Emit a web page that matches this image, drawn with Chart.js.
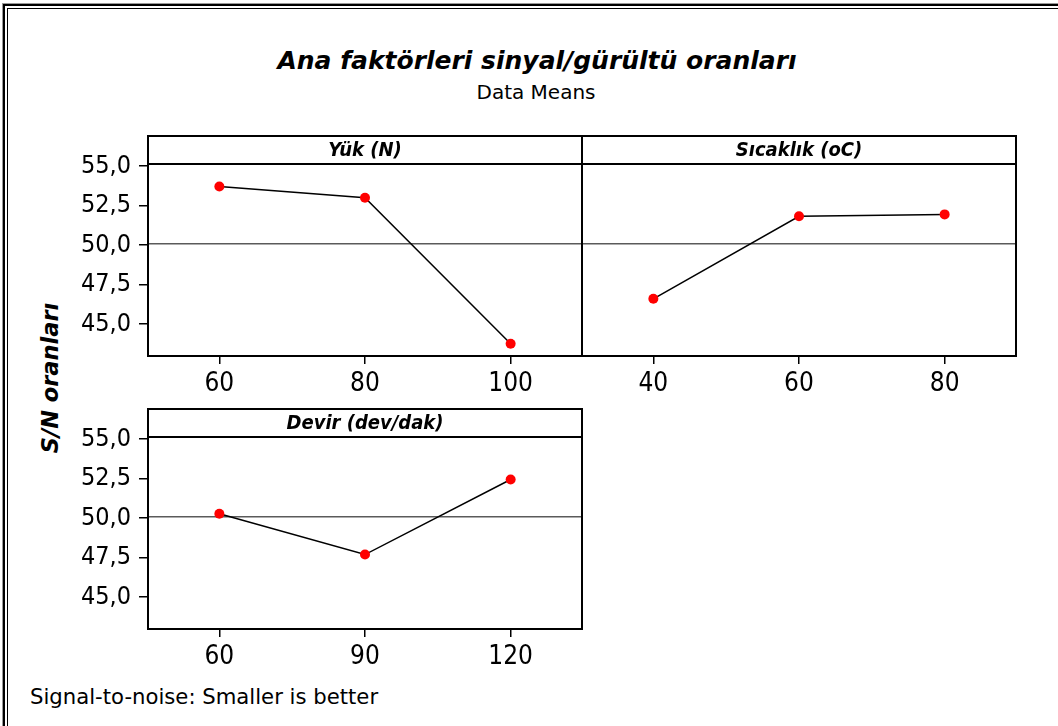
<!DOCTYPE html>
<html>
<head>
<meta charset="utf-8">
<script src="https://cdn.jsdelivr.net/npm/chart.js@4.4.1/dist/chart.umd.min.js"></script>
<style>
html,body{margin:0;padding:0;background:#fff;}
body{width:1058px;height:726px;position:relative;overflow:hidden;font-family:"DejaVu Sans",sans-serif;color:#000;}
canvas{position:absolute;left:0;top:0;}
.ln{position:absolute;background:#000;}
.txt{position:absolute;white-space:nowrap;line-height:1;}
#title{left:537px;top:48px;transform:translateX(-50%);font-weight:bold;font-style:italic;font-size:25px;}
#subtitle{left:536px;top:82px;transform:translateX(-50%);font-size:20px;}
#footer{left:30px;top:686px;font-size:21.2px;}
#ytitle{left:50px;top:378px;transform:translate(-50%,-50%) rotate(-90deg);font-weight:bold;font-style:italic;font-size:22.5px;}
</style>
</head>
<body>
<div class="ln" style="left:2px;top:3px;width:1px;height:723px;background:#999"></div>
<div class="ln" style="left:2px;top:3px;width:1056px;height:1px;background:#999"></div>
<div class="ln" style="left:3px;top:4px;width:2px;height:722px"></div>
<div class="ln" style="left:3px;top:4px;width:1055px;height:2px"></div>
<div class="ln" style="left:7px;top:8px;width:1px;height:718px"></div>
<div class="ln" style="left:7px;top:8px;width:1051px;height:1px"></div>

<div id="title" class="txt">Ana faktörleri sinyal/gürültü oranları</div>
<div id="subtitle" class="txt">Data Means</div>
<div id="ytitle" class="txt">S/N oranları</div>
<div id="footer" class="txt">Signal-to-noise: Smaller is better</div>

<canvas id="c1" width="1058" height="726"></canvas>
<canvas id="c2" width="1058" height="726"></canvas>
<canvas id="c3" width="1058" height="726"></canvas>

<script>
// ---- data ----
const yTicks = [45.0, 47.5, 50.0, 52.5, 55.0];
const yMin = 42.98;
const yMax = 55.13;
const meanSN = 50.08;

const loadLevels = [60, 80, 100];
const loadSN = [53.71, 52.99, 43.75];

const tempLevels = [40, 60, 80];
const tempSN = [46.60, 51.82, 51.94];

const speedLevels = [60, 90, 120];
const speedSN = [50.27, 47.69, 52.44];

const panelTitles = ['Yük (N)', 'Sıcaklık (oC)', 'Devir (dev/dak)'];

// ---- drawing ----
const FONT = '"DejaVu Sans Condensed", "DejaVu Sans", sans-serif';
const W = 1058, H = 726;
const HEADER_H = 28;
const Y_AXIS_W = 100;
const X_AXIS_H = 50;

const framePlugin = {
  id: 'panelFrame',
  afterDatasetsDraw(chart, args, opts) {
    const ctx = chart.ctx, a = chart.chartArea;
    ctx.save();
    ctx.strokeStyle = '#000';
    ctx.lineWidth = 2;
    ctx.strokeRect(a.left, a.top - HEADER_H, a.right - a.left, a.bottom - a.top + HEADER_H);
    ctx.beginPath();
    ctx.moveTo(a.left, a.top);
    ctx.lineTo(a.right, a.top);
    ctx.stroke();
    ctx.font = 'italic bold 20px ' + FONT;
    ctx.fillStyle = '#000';
    ctx.textAlign = 'center';
    ctx.textBaseline = 'middle';
    ctx.fillText(opts.title, (a.left + a.right) / 2, a.top - HEADER_H / 2 + 1);
    ctx.restore();
  }
};

function makePanel(id, levels, values, title, box, showY) {
  const step = levels[1] - levels[0];
  const xMin = levels[0] - 0.49 * step;
  const xMax = levels[levels.length - 1] + 0.49 * step;
  const yW = showY ? Y_AXIS_W : 0;
  new Chart(document.getElementById(id), {
    type: 'line',
    data: {
      datasets: [
        {
          data: levels.map((x, i) => ({ x: x, y: values[i] })),
          borderColor: '#000',
          borderWidth: 1.5,
          pointRadius: 5,
          pointBackgroundColor: '#ff0000',
          pointBorderColor: '#ff0000',
          pointBorderWidth: 0,
          tension: 0
        },
        {
          data: [{ x: xMin, y: meanSN }, { x: xMax, y: meanSN }],
          borderColor: '#5a5a5a',
          borderWidth: 1.5,
          pointRadius: 0,
          tension: 0
        }
      ]
    },
    options: {
      responsive: false,
      animation: false,
      events: [],
      layout: {
        padding: {
          left: box.left - yW,
          top: box.top,
          right: W - box.right,
          bottom: H - box.bottom - X_AXIS_H
        }
      },
      plugins: {
        legend: { display: false },
        tooltip: { enabled: false },
        panelFrame: { title: title }
      },
      scales: {
        x: {
          type: 'linear',
          min: xMin,
          max: xMax,
          afterBuildTicks: s => { s.ticks = levels.map(v => ({ value: v })); },
          afterFit: s => { s.height = X_AXIS_H; },
          grid: { drawOnChartArea: false, drawTicks: true, tickLength: 8, color: '#000', lineWidth: 1.5 },
          border: { display: false },
          ticks: {
            color: '#000',
            padding: 5,
            maxRotation: 0,
            font: { family: FONT, size: 26 },
            callback: v => String(v)
          }
        },
        y: {
          type: 'linear',
          display: showY,
          min: yMin,
          max: yMax,
          afterBuildTicks: s => { s.ticks = yTicks.map(v => ({ value: v })); },
          afterFit: s => { s.width = yW; },
          grid: { drawOnChartArea: false, drawTicks: true, tickLength: 9, color: '#000', lineWidth: 1.5 },
          border: { display: false },
          ticks: {
            color: '#000',
            padding: 8,
            font: { family: FONT, size: 25 },
            callback: v => Number(v).toFixed(1).replace('.', ',')
          }
        }
      }
    },
    plugins: [framePlugin]
  });
}

makePanel('c1', loadLevels, loadSN, panelTitles[0], { left: 148, top: 164, right: 582, bottom: 356 }, true);
makePanel('c2', tempLevels, tempSN, panelTitles[1], { left: 582, top: 164, right: 1016, bottom: 356 }, false);
makePanel('c3', speedLevels, speedSN, panelTitles[2], { left: 148, top: 437, right: 582, bottom: 629 }, true);
</script>
</body>
</html>
